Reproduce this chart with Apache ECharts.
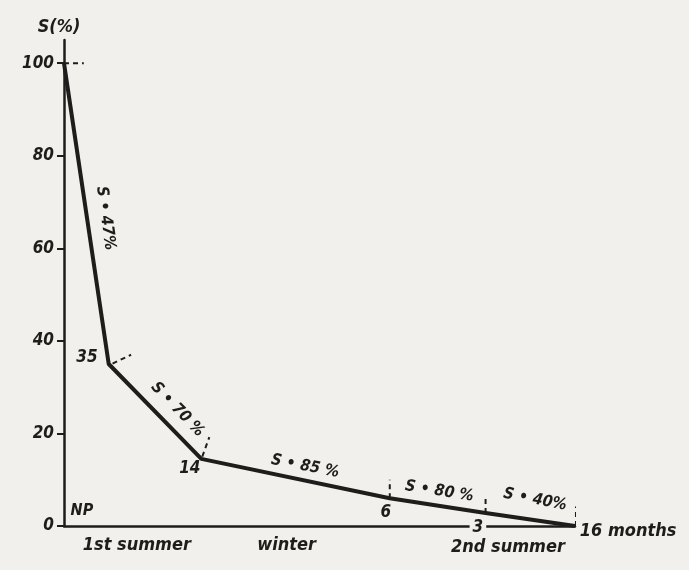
<!DOCTYPE html>
<html>
<head>
<meta charset="utf-8">
<script src="https://cdn.jsdelivr.net/npm/echarts@6/dist/echarts.min.js"></script>
<style>
html,body{margin:0;padding:0;background:#f1f0ec;}
#c{width:689px;height:570px;}
</style>
</head>
<body>
<div id="c"></div>
<script>
// ---- data ----
const months = [0, 1.4, 4.3, 10.2, 13.2, 16];
const survival = [100, 35, 14.5, 6, 2.8, 0];
const pointLabels = ['', '35', '14', '6', '3', ''];
const segmentLabels = ['S • 47%', 'S • 70 %', 'S • 85 %', 'S • 80 %', 'S • 40%'];
const seasonLabels = ['1st summer', 'winter', '2nd summer'];
const yTicks = [0, 20, 40, 60, 80, 100];
const yAxisTitle = 'S(%)';
const xAxisTitle = '16 months';
const startLabel = 'NP';

// ---- annotation placement (data coordinates) ----
const pointLabelPos = [null, [0.72, 36.3], [3.94, 12.4], [10.08, 2.9], [12.96, -0.4], null];
const segmentLabelPos = [[1.3, 66.5, -82], [3.55, 25.2, -46], [7.55, 12.9, -11], [11.75, 7.5, -9], [14.75, 5.7, -11]];
const seasonLabelPos = [[2.28, -4.2], [6.97, -4.2], [13.9, -4.5]];
const dashMarks = [
  [[0, 100], [0.62, 100]],
  [[1.52, 35.1], [2.1, 37.0]],
  [[4.33, 15.0], [4.55, 19.2]],
  [[10.2, 6.0], [10.2, 10.0]],
  [[13.2, 2.8], [13.2, 6.4]],
  [[16.03, 0], [16.03, 4.2]]
];

const FONT = '"Liberation Sans Narrow", "DejaVu Sans Condensed", sans-serif';
const INK = '#1f1d1c';
const BG = '#f1f0ec';
const txt = {fontFamily: FONT, fontStyle: 'italic', fontWeight: 'bold', color: INK};

const labelItems = [];
pointLabels.forEach((t, i) => {
  if (!t) return;
  labelItems.push({value: pointLabelPos[i], label: Object.assign({show: true, formatter: t, fontSize: 17, position: 'inside',
    backgroundColor: t === '3' ? BG : 'transparent', padding: t === '3' ? [0, 3] : 0}, txt)});
});
segmentLabels.forEach((t, i) => {
  const p = segmentLabelPos[i];
  labelItems.push({value: [p[0], p[1]], label: Object.assign({show: true, formatter: t, fontSize: 16, position: 'inside', rotate: p[2]}, txt)});
});
seasonLabels.forEach((t, i) => {
  labelItems.push({value: seasonLabelPos[i], label: Object.assign({show: true, formatter: t, fontSize: 18, position: 'inside'}, txt)});
});
labelItems.push({value: [0.56, 3.3], label: Object.assign({show: true, formatter: startLabel, fontSize: 16, position: 'inside'}, txt)});
labelItems.push({value: [16.15, -1.1], label: Object.assign({show: true, formatter: xAxisTitle, fontSize: 18, position: 'right', distance: 0}, txt)});

const dashSeries = dashMarks.map(seg => ({
  type: 'line', data: seg, symbol: 'none', silent: true, clip: false, z: 3,
  lineStyle: {color: INK, width: 2, type: [5, 4]}
}));

const chart = echarts.init(document.getElementById('c'), null, {renderer: 'canvas'});
chart.setOption({
  backgroundColor: BG,
  animation: false,
  grid: {left: 64, right: 114, top: 40, bottom: 44},
  xAxis: {
    type: 'value', min: 0, max: 16,
    axisLine: {show: true, onZero: false, lineStyle: {color: INK, width: 2.5}},
    axisTick: {show: false}, axisLabel: {show: false}, splitLine: {show: false}
  },
  yAxis: {
    type: 'value', min: 0, max: 105, interval: 20,
    name: yAxisTitle, nameLocation: 'end', nameGap: 4,
    nameTextStyle: Object.assign({fontSize: 18, align: 'center', padding: [0, 0, 0, -10]}, txt),
    axisLine: {show: true, lineStyle: {color: INK, width: 2.5}},
    axisTick: {show: true, length: 7, lineStyle: {color: INK, width: 2}, customValues: yTicks},
    axisLabel: Object.assign({fontSize: 17, margin: 10, customValues: yTicks}, txt),
    splitLine: {show: false}
  },
  series: [
    {
      type: 'line', data: months.map((m, i) => [m, survival[i]]), symbol: 'none', z: 4,
      lineStyle: {color: INK, width: 4, join: 'round'}
    },
    ...dashSeries,
    {
      type: 'scatter', data: labelItems, symbolSize: 0, clip: false, silent: true, z: 6,
      itemStyle: {opacity: 1, color: INK}
    }
  ]
});
</script>
</body>
</html>
